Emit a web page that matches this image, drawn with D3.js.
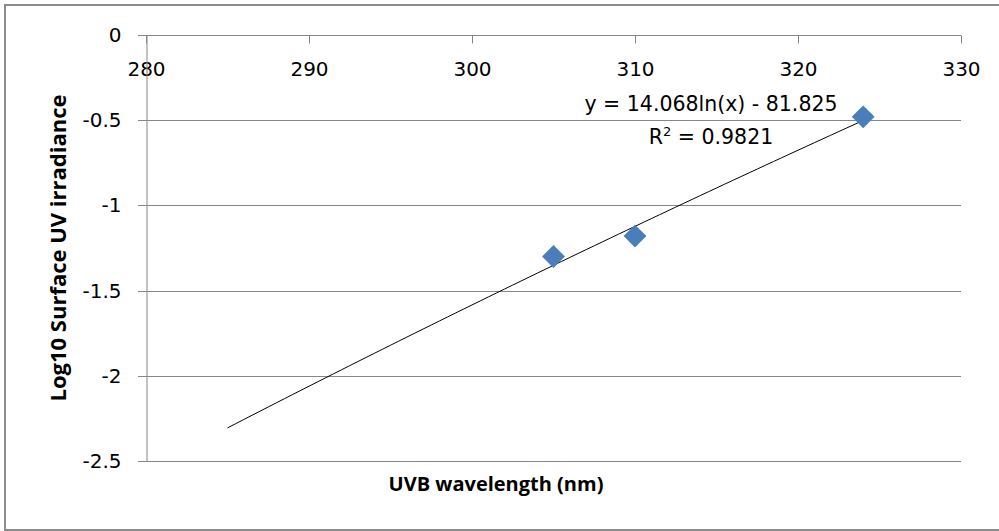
<!DOCTYPE html>
<html>
<head>
<meta charset="utf-8">
<script src="https://cdn.jsdelivr.net/npm/d3@7"></script>
<style>
  body { margin: 0; background: #fff; }
  text { font-family: "DejaVu Sans", sans-serif; fill: #000; }
  .titulo { font-family: "Open Sans", sans-serif; font-weight: bold; }
</style>
</head>
<body>
<div id="grafico"></div>
<script>
// datos
var wavelengths = [305, 310, 324];
var irradiance = [-1.30, -1.18, -0.48];
var xTicks = [280, 290, 300, 310, 320, 330];
var yTicks = [0, -0.5, -1, -1.5, -2, -2.5];
// trendline shown in the chart: y = a ln(x) + b
var trendA = 14.068, trendB = -81.825;
var trendRange = [285, 324];
var trendLabel = "y = 14.068ln(x) - 81.825";
var r2Label = "0.9821";

var width = 999, height = 531;
var margen = { izq: 146, der: 961, arr: 35, aba: 461 };
var gris = "#868686";

var svg = d3.select("#grafico").append("svg")
	.attr("width", width)
	.attr("height", height);

// borde del area del grafico
svg.append("rect")
	.attr("x", 5).attr("y", 5)
	.attr("width", 1010).attr("height", 525)
	.attr("fill", "none")
	.attr("stroke", "#8c8c8c")
	.attr("stroke-width", 2);

var x = d3.scaleLinear().domain([280, 330]).range([margen.izq, margen.der]);
var y = d3.scaleLinear().domain([0, -2.5]).range([margen.arr, margen.aba]);

// lineas horizontales
svg.append("g").selectAll("line")
	.data(yTicks)
	.enter().append("line")
	.attr("x1", margen.izq - 8).attr("x2", margen.der)
	.attr("y1", function(d) { return Math.round(y(d)) + 0.5; })
	.attr("y2", function(d) { return Math.round(y(d)) + 0.5; })
	.attr("stroke", gris).attr("stroke-width", 1);

// eje x arriba (en y = 0), marcas hacia dentro
var xAxis = svg.append("g")
	.attr("transform", "translate(0," + (Math.round(y(0)) + 0.5) + ")")
	.call(d3.axisBottom(x).tickValues(xTicks).tickSize(8).tickPadding(18).tickFormat(d3.format("d")));
xAxis.select(".domain").remove();
xAxis.selectAll("line").attr("stroke", gris);
xAxis.selectAll("text").style("font-size", "20px").attr("font-family", null);

// eje y
var yAxis = svg.append("g")
	.attr("transform", "translate(" + (margen.izq + 0.5) + ",0)")
	.call(d3.axisLeft(y).tickValues(yTicks).tickSize(0).tickPadding(25).tickFormat(function(d) { return d === 0 ? "0" : String(d); }));
yAxis.select(".domain").attr("stroke", gris);
yAxis.selectAll("text").style("font-size", "20px").attr("font-family", null);

// linea de tendencia
var muestras = d3.range(trendRange[0], trendRange[1] + 0.001, 0.5);
var linea = d3.line()
	.x(function(d) { return x(d); })
	.y(function(d) { return y(trendA * Math.log(d) + trendB); });
svg.append("path")
	.datum(muestras)
	.attr("d", linea)
	.attr("fill", "none")
	.attr("stroke", "#000")
	.attr("stroke-width", 1);

// puntos (rombos)
var puntos = wavelengths.map(function(w, i) { return { w: w, v: irradiance[i] }; });
svg.append("g").selectAll("path")
	.data(puntos)
	.enter().append("path")
	.attr("d", d3.symbol().type(d3.symbolSquare).size(260))
	.attr("transform", function(d) { return "translate(" + x(d.w) + "," + y(d.v) + ") rotate(45)"; })
	.attr("fill", "#4a7ebb");

// etiqueta de la ecuacion
svg.append("text")
	.attr("x", 711).attr("y", 111)
	.attr("text-anchor", "middle")
	.style("font-size", "20.5px")
	.text(trendLabel);
var r2 = svg.append("text")
	.attr("x", 711).attr("y", 144)
	.attr("text-anchor", "middle")
	.style("font-size", "20.5px");
r2.append("tspan").text("R");
r2.append("tspan").attr("dy", -8).style("font-size", "13px").text("2");
r2.append("tspan").attr("dy", 8).text(" = " + r2Label);

// titulos
svg.append("text")
	.attr("class", "titulo")
	.attr("x", 496).attr("y", 491)
	.attr("text-anchor", "middle")
	.style("font-size", "20px")
	.text("UVB wavelength (nm)");
svg.append("text")
	.attr("class", "titulo")
	.attr("transform", "translate(66,248) rotate(-90)")
	.attr("text-anchor", "middle")
	.style("font-size", "22px")
	.text("Log10 Surface UV irradiance");
</script>
</body>
</html>
